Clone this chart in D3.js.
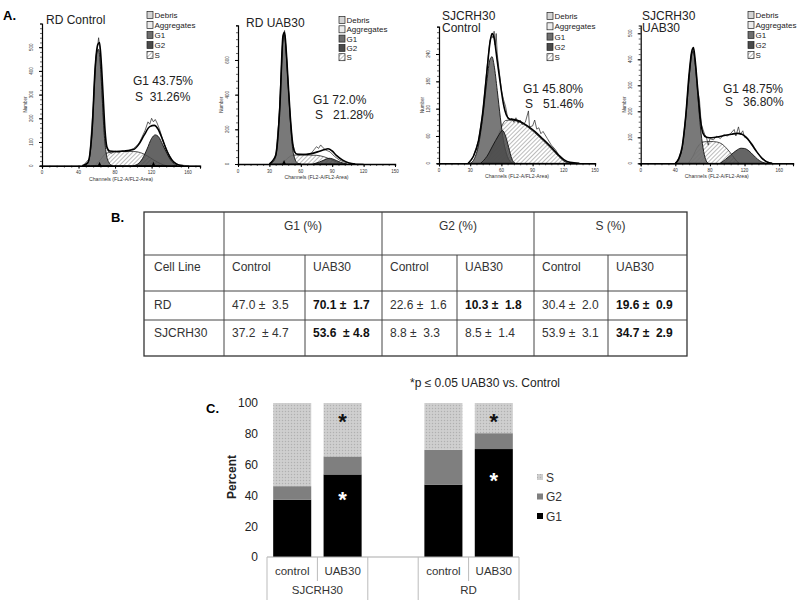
<!DOCTYPE html>
<html><head><meta charset="utf-8">
<script src="https://cdn.jsdelivr.net/npm/d3@7/dist/d3.min.js"></script>
<style>body{margin:0;background:#fff}svg{display:block}text{font-family:"Liberation Sans",Arial,sans-serif}</style>
</head><body><svg id="c" width="800" height="600"></svg>
<script>
// ---------- Panel A data (channel, count) ----------
const rdCtrlG1=[[46,0],[50,10],[53,60],[56,220],[58,400],[60,480],[62,490],[64,420],[66,280],[68,140],[70,60],[73,15],[77,0]];
const rdCtrlS=[[58,0],[64,25],[70,52],[78,58],[90,60],[100,60],[108,55],[115,42],[122,25],[130,8],[136,0]];
const rdCtrlG2=[[100,0],[106,10],[110,30],[115,70],[120,115],[124,130],[128,120],[132,90],[137,50],[142,18],[148,0]];
const rdCtrlModel=[[44,0],[50,12],[55,160],[58,400],[61,510],[63,520],[65,430],[67,290],[69,150],[71,80],[74,62],[80,60],[90,62],[100,68],[106,90],[112,130],[118,165],[123,170],[127,155],[132,110],[137,60],[142,25],[148,5],[155,0]];
const rdCtrlData=[[45,0],[52,30],[56,250],[59,440],[62,540],[64,470],[66,300],[68,160],[70,80],[73,58],[76,52],[80,62],[84,55],[88,63],[92,58],[96,66],[100,72],[104,85],[107,100],[110,125],[113,150],[116,185],[118,175],[120,200],[122,185],[124,195],[126,180],[129,150],[133,100],[138,55],[143,20],[150,3],[160,0]];

const rdUabG1=[[30,0],[34,15],[37,80],[39,250],[41,500],[43,720],[44.5,745],[46,650],[48,450],[50,250],[52,100],[54,35],[57,5],[60,0]];
const rdUabS=[[40,0],[45,20],[50,45],[55,52],[65,52],[75,50],[82,42],[88,28],[94,12],[100,0]];
const rdUabG2=[[72,0],[78,12],[83,25],[87,33],[90,30],[94,20],[98,10],[104,0]];
const rdUabModel=[[30,0],[36,50],[40,330],[43,740],[44.5,760],[46,660],[48,460],[50,270],[52,130],[54,70],[57,55],[62,55],[70,60],[76,70],[82,82],[86,88],[90,75],[94,50],[100,22],[106,6],[112,0]];
const rdUabData=[[30,0],[36,40],[40,320],[43,730],[44.5,770],[46,640],[48,450],[50,260],[52,120],[55,60],[60,58],[65,55],[70,62],[73,85],[75,100],[77,90],[79,110],[81,95],[84,80],[88,70],[92,45],[97,22],[103,8],[110,2],[120,0]];

const sjCtrlG1=[[30,0],[34,10],[38,40],[42,100],[46,180],[49,228],[51,234],[53,215],[56,160],[59,100],[62,50],[65,20],[68,5],[71,0]];
const sjCtrlG2=[[40,0],[46,15],[52,40],[57,60],[61,72],[64,60],[67,35],[70,10],[73,0]];
const sjCtrlS=[[45,0],[50,20],[55,50],[60,80],[64,94],[70,95],[78,90],[85,80],[92,67],[100,50],[108,32],[115,15],[120,5],[124,0]];
const sjCtrlModel=[[28,0],[33,15],[38,50],[42,110],[46,200],[49,265],[51,285],[53,275],[56,225],[59,175],[62,130],[65,105],[68,97],[72,96],[78,92],[85,82],[92,70],[100,53],[108,35],[115,18],[120,8],[126,2],[135,0]];
const sjCtrlData=[[28,0],[33,15],[38,50],[42,110],[46,205],[49,270],[51,280],[52,275],[53,290],[54,260],[55,285],[56,240],[58,200],[60,160],[62,140],[64,125],[66,100],[68,95],[70,99],[72,90],[74,100],[76,88],[78,95],[80,85],[83,90],[86,115],[87,80],[90,82],[92,95],[94,75],[96,78],[98,65],[100,70],[104,55],[108,40],[112,30],[116,15],[120,5],[126,0]];

const sjUabG1=[[40,0],[44,15],[48,60],[52,170],[56,330],[59,425],[61,430],[63,380],[66,260],[69,140],[72,60],[75,15],[78,0]];
const sjUabS=[[55,0],[60,25],[66,65],[72,82],[80,84],[88,82],[94,74],[100,55],[106,30],[110,12],[114,0]];
const sjUabG2=[[92,0],[98,15],[104,32],[110,48],[116,58],[120,57],[125,48],[130,32],[135,16],[140,5],[145,0]];
const sjUabModel=[[40,0],[44,18],[48,65],[52,180],[56,345],[59,430],[61,445],[63,395],[66,280],[69,170],[72,115],[76,100],[82,98],[90,102],[98,108],[105,112],[112,115],[117,112],[122,100],[128,75],[134,45],[140,20],[146,5],[152,0]];
const sjUabData=[[40,0],[44,18],[48,60],[52,180],[56,340],[59,420],[61,440],[63,390],[66,280],[68,240],[70,150],[72,130],[74,110],[76,100],[78,70],[80,95],[84,90],[88,105],[92,95],[96,110],[100,105],[104,115],[108,130],[110,105],[113,140],[115,110],[118,125],[120,100],[124,95],[128,70],[134,45],[140,20],[146,5],[152,0]];

const histTitles=[["RD Control"],["RD UAB30"],["SJCRH30","Control"],["SJCRH30","UAB30"]];
const histG1Text=["G1 43.75%","G1 72.0%","G1 45.80%","G1 48.75%"];
const histSText=["S  31.26%","S   21.28%","S   51.46%","S   36.80%"];
const histXTicks=[[0,40,80,120,160],[0,30,60,90,120,150],[0,30,60,90,120,150],[0,40,80,120,160]];
const histYTicks=[[0,100,200,300,400,500],[0,200,400,600],[0,60,120,180,240],[0,100,200,300,400,500]];
const legendNames=["Debris","Aggregates","G1","G2","S"];

// ---------- Panel B data ----------
const phaseHeaders=["G1 (%)","G2 (%)","S (%)"];
const subHeaders=["Control","UAB30","Control","UAB30","Control","UAB30"];
const cellLines=["RD","SJCRH30"];
const tableRD=["47.0 ±  3.5","70.1 ±  1.7","22.6 ±  1.6","10.3 ±  1.8","30.4 ±  2.0","19.6 ±  0.9"];
const tableSJ=["37.2  ± 4.7","53.6  ± 4.8","8.8 ±  3.3","8.5 ±  1.4","53.9 ±  3.1","34.7 ±  2.9"];
const boldRD=[false,true,false,true,false,true];
const boldSJ=[false,true,false,false,false,true];

// ---------- Panel C data ----------
const treatments=["control","UAB30","control","UAB30"];
const groups=["SJCRH30","RD"];
const g1Vals=[37.2,53.6,47.0,70.1];
const g2Vals=[8.8,11.7,22.6,10.3];
const sVals=[54.0,34.7,30.4,19.6];
const significant=[false,true,false,true];
const pctTicks=[0,20,40,60,80,100];

const svg=d3.select("#c");
const defs=svg.append("defs");
const hp=defs.append("pattern").attr("id","hatch").attr("patternUnits","userSpaceOnUse").attr("width",3).attr("height",3).attr("patternTransform","rotate(45)");
hp.append("rect").attr("width",3).attr("height",3).attr("fill","#fff");
hp.append("line").attr("x1",0).attr("y1",0).attr("x2",0).attr("y2",3).attr("stroke","#777").attr("stroke-width",1);
const dp=defs.append("pattern").attr("id","dots").attr("patternUnits","userSpaceOnUse").attr("width",3).attr("height",3);
dp.append("rect").attr("width",3).attr("height",3).attr("fill","#cbcbcb");
dp.append("rect").attr("width",1).attr("height",1).attr("fill","#b0b0b0");
dp.append("rect").attr("x",1.5).attr("y",1.5).attr("width",1).attr("height",1).attr("fill","#dedede");

// ---------- Panel A ----------
svg.append("text").attr("x",3).attr("y",20).attr("font-size",13).attr("font-weight","bold").text("A.");
const layout=[
 {xr:[42,200],xd:[0,173],yr:[165.7,23.5],yd:[0,600],tx:46,ty:[24],lx:147,ly:15,ldy:10,ax:133,ay:[85,101],mk:[63,122]},
 {xr:[238,395],xd:[0,150],yr:[164,25.3],yd:[0,800],tx:246,ty:[27],lx:339,ly:20,ldy:9.3,ax:313,ay:[104,119],mk:[44]},
 {xr:[439,595],xd:[0,150],yr:[163.3,26.7],yd:[0,300],tx:442,ty:[19.5,32],lx:547,ly:16,ldy:10.3,ax:523,ay:[93,108],mk:[]},
 {xr:[640.7,793],xd:[0,176],yr:[163.3,25.5],yd:[0,530],tx:642,ty:[19.5,32],lx:748,ly:15,ldy:10,ax:723,ay:[93,106],mk:[]}
];
const comps=[[rdCtrlG1,rdCtrlS,rdCtrlG2,rdCtrlModel,rdCtrlData],[rdUabG1,rdUabS,rdUabG2,rdUabModel,rdUabData],[sjCtrlG1,sjCtrlS,sjCtrlG2,sjCtrlModel,sjCtrlData],[sjUabG1,sjUabS,sjUabG2,sjUabModel,sjUabData]];
const legFill=["#d4d4d4","#ececec","#6e6e6e","#4a4a4a","url(#hatch)"];
layout.forEach((L,i)=>{
  const g=svg.append("g");
  const x=d3.scaleLinear().domain(L.xd).range(L.xr);
  const y=d3.scaleLinear().domain(L.yd).range(L.yr);
  const [G1,S,G2,M,D]=comps[i];
  const area=d3.area().x(d=>x(d[0])).y0(y(0)).y1(d=>y(d[1])).curve(d3.curveMonotoneX);
  const line=d3.line().x(d=>x(d[0])).y(d=>y(d[1]));
  g.append("path").attr("d",area(S)).attr("fill","url(#hatch)").attr("stroke","#222").attr("stroke-width",0.8);
  g.append("path").attr("d",area(G1)).attr("fill","#6e6e6e").attr("fill-opacity",0.92).attr("stroke","#111").attr("stroke-width",0.9);
  g.append("path").attr("d",area(G2)).attr("fill","#4a4a4a").attr("fill-opacity",0.85).attr("stroke","#111").attr("stroke-width",0.9);
  g.append("path").attr("d",line(D)).attr("fill","none").attr("stroke","#222").attr("stroke-width",0.7);
  g.append("path").attr("d",line.curve(d3.curveMonotoneX)(M)).attr("fill","none").attr("stroke","#000").attr("stroke-width",1.6);
  const y0=y(0);
  const xa=d3.axisBottom(x).tickValues(d3.range(L.xd[0],L.xd[1]+0.01,(histXTicks[i][1]-histXTicks[i][0])/5)).tickSize(2).tickFormat("");
  g.append("g").attr("transform",`translate(0,${y0})`).call(xa).call(s=>{s.select(".domain").attr("stroke-width",1.4);s.selectAll("line").attr("stroke-width",0.6);});
  g.append("g").attr("transform",`translate(0,${y0})`).call(d3.axisBottom(x).tickValues(histXTicks[i]).tickSize(3).tickFormat(""));
  histXTicks[i].forEach(t=>g.append("text").attr("x",x(t)).attr("y",y0+8.5).attr("text-anchor","middle").attr("font-size",4.5).attr("fill","#333").text(t));
  const ya=d3.axisLeft(y).tickValues(d3.range(L.yd[0],L.yd[1]+0.01,(histYTicks[i][1]-histYTicks[i][0])/5)).tickSize(2).tickFormat("");
  g.append("g").attr("transform",`translate(${L.xr[0]},0)`).call(ya).call(s=>{s.select(".domain").attr("stroke-width",1.2);s.selectAll("line").attr("stroke-width",0.6);});
  g.append("g").attr("transform",`translate(${L.xr[0]},0)`).call(d3.axisLeft(y).tickValues(histYTicks[i]).tickSize(3).tickFormat("")).call(s=>s.select(".domain").remove());
  histYTicks[i].forEach(t=>g.append("text").attr("transform",`translate(${L.xr[0]-9},${y(t)}) rotate(-90)`).attr("text-anchor","middle").attr("font-size",4.5).attr("fill","#333").text(t));
  g.append("text").attr("transform",`translate(${L.xr[0]-15},${(L.yr[0]+L.yr[1])/2+10}) rotate(-90)`).attr("text-anchor","middle").attr("font-size",4.5).attr("fill","#333").text("Number");
  g.append("text").attr("x",(L.xr[0]+L.xr[1])/2).attr("y",y0+15).attr("text-anchor","middle").attr("font-size",5.2).attr("fill","#333").text("Channels (FL2-A/FL2-Area)");
  L.mk.forEach(m=>g.append("path").attr("d",`M${x(m)-2},${y0+0.5}L${x(m)+2},${y0+0.5}L${x(m)},${y0-4}Z`).attr("fill","#000"));
  histTitles[i].forEach((t,k)=>g.append("text").attr("x",L.tx).attr("y",L.ty[k]).attr("font-size",12).attr("fill","#222").text(t));
  legendNames.forEach((n,k)=>{
    const cy=L.ly+k*L.ldy;
    g.append("rect").attr("x",L.lx).attr("y",cy-3.5).attr("width",6).attr("height",7).attr("fill",legFill[k]).attr("stroke","#222").attr("stroke-width",0.7);
    g.append("text").attr("x",L.lx+7.5).attr("y",cy+3).attr("font-size",8).attr("fill","#222").text(n);
  });
  g.append("text").attr("x",L.ax).attr("y",L.ay[0]).attr("font-size",12).attr("fill","#222").text(histG1Text[i]);
  g.append("text").attr("x",L.ax+2).attr("y",L.ay[1]).attr("font-size",12).attr("fill","#222").style("white-space","pre").text(histSText[i]);
});

// ---------- Panel B ----------
svg.append("text").attr("x",111).attr("y",222).attr("font-size",13).attr("font-weight","bold").text("B.");
const colX=[144,224,305,382,457,534,608,687];
const rowY=[212,255,291,320,356];
const tb=svg.append("g");
tb.append("rect").attr("x",colX[0]).attr("y",rowY[0]).attr("width",colX[7]-colX[0]).attr("height",rowY[4]-rowY[0]).attr("fill","none").attr("stroke","#333").attr("stroke-width",1.3);
rowY.slice(1,4).forEach(r=>tb.append("line").attr("x1",colX[0]).attr("x2",colX[7]).attr("y1",r).attr("y2",r).attr("stroke","#444").attr("stroke-width",1));
[1,3,5].forEach(c=>tb.append("line").attr("x1",colX[c]).attr("x2",colX[c]).attr("y1",rowY[0]).attr("y2",rowY[4]).attr("stroke","#444"));
[2,4,6].forEach(c=>tb.append("line").attr("x1",colX[c]).attr("x2",colX[c]).attr("y1",rowY[1]).attr("y2",rowY[4]).attr("stroke","#444"));
phaseHeaders.forEach((h,k)=>tb.append("text").attr("x",(colX[1+2*k]+colX[3+2*k])/2).attr("y",230).attr("text-anchor","middle").attr("font-size",12).attr("fill","#333").text(h));
tb.append("text").attr("x",154).attr("y",271).attr("font-size",12).attr("fill","#333").text("Cell Line");
subHeaders.forEach((h,k)=>tb.append("text").attr("x",colX[k+1]+8).attr("y",271).attr("font-size",12).attr("fill","#333").text(h));
[[tableRD,boldRD,309],[tableSJ,boldSJ,337]].forEach(([vals,bold,yy],r)=>{
  tb.append("text").attr("x",154).attr("y",yy).attr("font-size",12).attr("fill","#333").text(cellLines[r]);
  vals.forEach((v,k)=>tb.append("text").attr("x",colX[k+1]+8).attr("y",yy).attr("font-size",12).attr("font-weight",bold[k]?"bold":"normal").attr("fill",bold[k]?"#111":"#333").style("white-space","pre").text(v));
});

// ---------- Panel C ----------
svg.append("text").attr("x",206).attr("y",413).attr("font-size",13).attr("font-weight","bold").text("C.");
svg.append("text").attr("x",410).attr("y",387).attr("font-size",12).attr("fill","#222").text("*p ≤ 0.05 UAB30 vs. Control");
const slots=["s0","s1","gap","s2","s3"];
const slotIdx=[0,1,3,4];
const xb=d3.scaleBand().domain(slots).range([267,519]).paddingInner(0.245).paddingOuter(0.1225);
const yb=d3.scaleLinear().domain([0,100]).range([557,403]);
const cg=svg.append("g");
cg.append("g").attr("transform","translate(267,0)").call(d3.axisLeft(yb).tickValues(pctTicks).tickSize(0).tickPadding(9))
  .call(s=>{s.select(".domain").remove();s.selectAll("text").attr("font-size",12).attr("fill","#222").attr("font-family","Liberation Sans, Arial, sans-serif");});
cg.append("text").attr("transform",`translate(236,477) rotate(-90)`).attr("text-anchor","middle").attr("font-size",12).attr("font-weight","bold").attr("fill","#222").text("Percent");
treatments.forEach((t,i)=>{
  const bx=xb(slots[slotIdx[i]]), bw=xb.bandwidth();
  const stack=[[0,g1Vals[i],"#000"],[g1Vals[i],g1Vals[i]+g2Vals[i],"#7f7f7f"],[g1Vals[i]+g2Vals[i],g1Vals[i]+g2Vals[i]+sVals[i],"url(#dots)"]];
  stack.forEach(([a,b,f])=>cg.append("rect").attr("x",bx).attr("width",bw).attr("y",yb(b)).attr("height",yb(a)-yb(b)).attr("fill",f));
  if(significant[i]){
    cg.append("text").attr("x",bx+bw/2).attr("y",yb(91)+12).attr("text-anchor","middle").attr("font-size",22).attr("font-weight","bold").attr("fill","#111").text("*");
    cg.append("text").attr("x",bx+bw/2).attr("y",yb(g1Vals[i]*0.75)+12).attr("text-anchor","middle").attr("font-size",22).attr("font-weight","bold").attr("fill","#fff").text("*");
  }
  cg.append("text").attr("x",bx+bw/2).attr("y",575).attr("text-anchor","middle").attr("font-size",11.5).attr("fill","#333").text(t);
});
cg.append("line").attr("x1",267).attr("x2",519).attr("y1",557).attr("y2",557).attr("stroke","#aaa").attr("stroke-width",1.2);
const step=xb.step();
d3.range(6).forEach(k=>{
  const xx=267+k*step; const long=(k===0||k===2||k===3||k===5);
  cg.append("line").attr("x1",xx).attr("x2",xx).attr("y1",557).attr("y2",long?600:581).attr("stroke","#bbb").attr("stroke-width",1);
});
groups.forEach((gname,k)=>cg.append("text").attr("x",267+(k===0?1:4)*step).attr("y",594).attr("text-anchor","middle").attr("font-size",11.5).attr("fill","#333").text(gname));
const legC=[["S","url(#dots)"],["G2","#7f7f7f"],["G1","#000"]];
legC.forEach(([n,f],k)=>{
  const cy=477+k*19.5;
  cg.append("rect").attr("x",537).attr("y",cy-3).attr("width",6).attr("height",6).attr("fill",f);
  cg.append("text").attr("x",546).attr("y",cy+4.5).attr("font-size",12).attr("fill","#333").text(n);
});
</script></body></html>
